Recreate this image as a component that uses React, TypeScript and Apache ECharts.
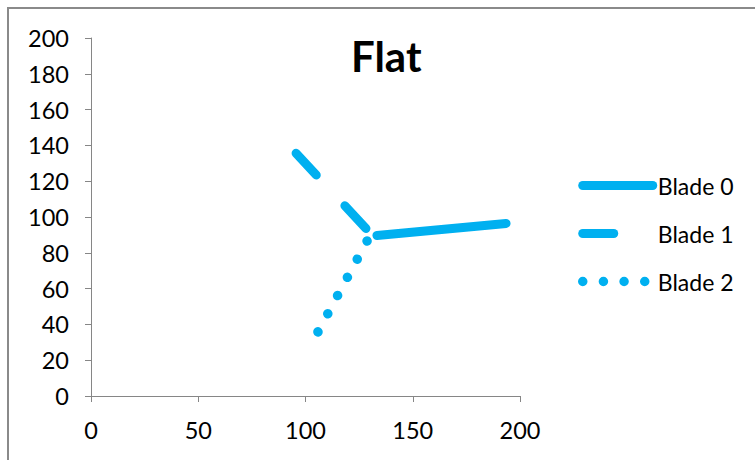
import React, { useEffect, useRef } from "react";
import * as echarts from "echarts";

const seriesNames = ["Blade 0", "Blade 1", "Blade 2"];
const blade0: number[][] = [
  [133.3, 89.7],
  [193.5, 96.4],
];
const blade1: number[][] = [
  [128.2, 93.6],
  [95.6, 135.6],
];
const blade2: number[][] = [
  [128.7, 86.6],
  [105.8, 35.8],
];
const titleText = "Flat";

const COLOR = "#00B0F0";
const FONT = "Lato";

export default function App() {
  const ref = useRef<HTMLDivElement>(null);
  useEffect(() => {
    if (!ref.current) return;
    const chart = echarts.init(ref.current, null, { renderer: "svg" });
    const axisCommon = {
      axisLine: { show: true, onZero: false, lineStyle: { color: "#868686", width: 1 } },
      axisTick: { show: true, inside: false, length: 6, lineStyle: { color: "#868686" } },
      splitLine: { show: false },
      axisLabel: { color: "#000", fontFamily: FONT, fontSize: 23.5 },
    };
    chart.setOption({
      animation: false,
      backgroundColor: "#fff",
      title: {
        text: titleText,
        left: 346,
        top: 30,
        textStyle: { fontFamily: FONT, fontSize: 42, fontWeight: "bold", color: "#000" },
      },
      graphic: [
        {
          type: "rect",
          shape: { x: 8, y: 8, width: 900, height: 700 },
          style: { fill: "none", stroke: "#8a8a8a", lineWidth: 2 },
          silent: true,
        },
      ],
      grid: { left: 91, right: 235, top: 38, bottom: 64, containLabel: false },
      xAxis: {
        type: "value",
        min: 0,
        max: 200,
        interval: 50,
        ...axisCommon,
        axisLabel: { ...axisCommon.axisLabel, margin: 22 },
      },
      yAxis: {
        type: "value",
        min: 0,
        max: 200,
        interval: 20,
        ...axisCommon,
        axisLabel: { ...axisCommon.axisLabel, margin: 22 },
      },
      legend: {
        orient: "vertical",
        left: 578,
        top: 174,
        padding: 0,
        itemWidth: 70,
        itemHeight: 14,
        itemGap: 25,
        data: seriesNames,
        textStyle: { fontFamily: FONT, fontSize: 23, color: "#000" },
        itemStyle: { color: "rgba(0,0,0,0)", borderWidth: 0, opacity: 0 },
        lineStyle: { width: "inherit", cap: "round", type: "inherit", color: COLOR },
      },
      series: [
        {
          name: seriesNames[0],
          type: "line",
          data: blade0,
          symbol: "none",
          lineStyle: { color: COLOR, width: 9, cap: "round", type: "solid" },
          itemStyle: { color: COLOR },
        },
        {
          name: seriesNames[1],
          type: "line",
          data: blade1,
          symbol: "none",
          lineStyle: { color: COLOR, width: 9, cap: "round", type: [31, 42] },
          itemStyle: { color: COLOR },
        },
        {
          name: seriesNames[2],
          type: "line",
          data: blade2,
          symbol: "none",
          lineStyle: { color: COLOR, width: 9.5, cap: "round", type: [0.01, 20.65] },
          itemStyle: { color: COLOR },
        },
      ],
    });
    return () => chart.dispose();
  }, []);
  return (
    <div
      ref={ref}
      style={{ position: "fixed", left: 0, top: 0, width: 755, height: 460 }}
    />
  );
}
